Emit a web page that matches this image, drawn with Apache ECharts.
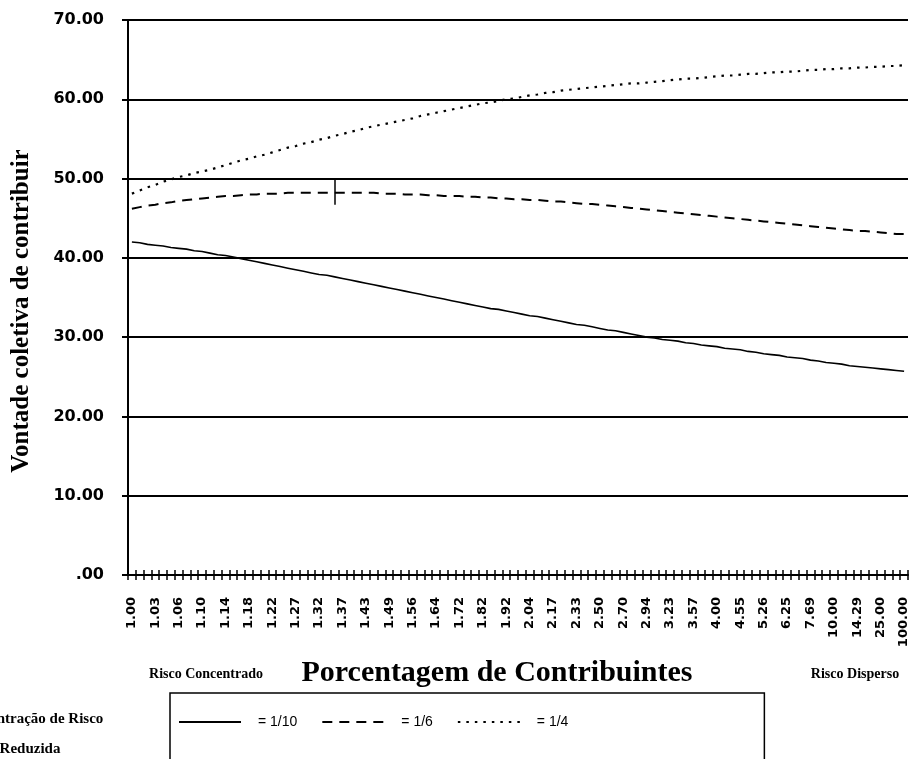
<!DOCTYPE html>
<html>
<head>
<meta charset="utf-8">
<script src="https://cdn.jsdelivr.net/npm/echarts@6/dist/echarts.min.js"></script>
<style>
  html, body { margin: 0; padding: 0; background: #fff; }
  #chart { width: 912px; height: 759px; }
</style>
</head>
<body>
<div id="chart"></div>
<script>
// porcentagem de contribuintes (eixo x, 100 categorias)
const categorias = [
  '1.00', '1.01', '1.02', '1.03', '1.04', '1.05', '1.06', '1.08', '1.09', '1.10',
  '1.11', '1.12', '1.14', '1.15', '1.16', '1.18', '1.19', '1.20', '1.22', '1.23',
  '1.25', '1.27', '1.28', '1.30', '1.32', '1.33', '1.35', '1.37', '1.39', '1.41',
  '1.43', '1.45', '1.47', '1.49', '1.52', '1.54', '1.56', '1.59', '1.61', '1.64',
  '1.67', '1.69', '1.72', '1.75', '1.79', '1.82', '1.85', '1.89', '1.92', '1.96',
  '2.00', '2.04', '2.08', '2.13', '2.17', '2.22', '2.27', '2.33', '2.38', '2.44',
  '2.50', '2.56', '2.63', '2.70', '2.78', '2.86', '2.94', '3.03', '3.13', '3.23',
  '3.33', '3.45', '3.57', '3.70', '3.85', '4.00', '4.17', '4.35', '4.55', '4.76',
  '5.00', '5.26', '5.56', '5.88', '6.25', '6.67', '7.14', '7.69', '8.33', '9.09',
  '10.00', '11.11', '12.50', '14.29', '16.67', '20.00', '25.00', '33.33', '50.00', '100.00'
]

// concentração de risco = 1/10 (linha cheia)
const risco10 = [
  42.0, 41.9, 41.7, 41.6, 41.5, 41.3, 41.2, 41.1, 40.9, 40.8,
  40.6, 40.4, 40.3, 40.1, 39.9, 39.7, 39.5, 39.3, 39.1, 38.9,
  38.7, 38.5, 38.3, 38.1, 37.9, 37.8, 37.6, 37.4, 37.2, 37.0,
  36.8, 36.6, 36.4, 36.2, 36.0, 35.8, 35.6, 35.4, 35.2, 35.0,
  34.8, 34.6, 34.4, 34.2, 34.0, 33.8, 33.6, 33.5, 33.3, 33.1,
  32.9, 32.7, 32.6, 32.4, 32.2, 32.0, 31.8, 31.6, 31.5, 31.3,
  31.1, 30.9, 30.8, 30.6, 30.4, 30.2, 30.0, 29.9, 29.7, 29.6,
  29.5, 29.3, 29.2, 29.0, 28.9, 28.8, 28.6, 28.5, 28.4, 28.2,
  28.1, 27.9, 27.8, 27.7, 27.5, 27.4, 27.3, 27.1, 27.0, 26.8,
  26.7, 26.6, 26.4, 26.3, 26.2, 26.1, 26.0, 25.9, 25.8, 25.7
]

// = 1/6 (tracejada)
const risco6 = [
  46.2, 46.4, 46.6, 46.7, 46.9, 47.0, 47.2, 47.3, 47.4, 47.5,
  47.6, 47.7, 47.8, 47.8, 47.9, 48.0, 48.0, 48.1, 48.1, 48.1,
  48.2, 48.2, 48.2, 48.2, 48.2, 48.2, 48.2, 48.2, 48.2, 48.2,
  48.2, 48.2, 48.1, 48.1, 48.1, 48.0, 48.0, 48.0, 47.9, 47.9,
  47.8, 47.8, 47.8, 47.7, 47.7, 47.6, 47.6, 47.5, 47.5, 47.4,
  47.4, 47.3, 47.3, 47.2, 47.1, 47.1, 47.0, 46.9, 46.8, 46.8,
  46.7, 46.6, 46.5, 46.4, 46.3, 46.2, 46.1, 46.0, 45.9, 45.8,
  45.7, 45.6, 45.5, 45.4, 45.3, 45.2, 45.1, 45.0, 44.9, 44.8,
  44.7, 44.6, 44.5, 44.4, 44.3, 44.2, 44.1, 44.0, 43.9, 43.8,
  43.7, 43.6, 43.5, 43.4, 43.4, 43.3, 43.2, 43.1, 43.0, 43.0
]

// = 1/4 (pontilhada)
const risco4 = [
  48.1, 48.5, 48.9, 49.2, 49.6, 49.9, 50.2, 50.4, 50.7, 50.9,
  51.1, 51.4, 51.7, 52.0, 52.3, 52.5, 52.8, 53.0, 53.3, 53.6,
  53.9, 54.1, 54.4, 54.6, 54.9, 55.1, 55.4, 55.6, 55.9, 56.1,
  56.4, 56.6, 56.8, 57.0, 57.2, 57.4, 57.6, 57.9, 58.1, 58.3,
  58.5, 58.7, 58.9, 59.1, 59.3, 59.5, 59.6, 59.8, 60.0, 60.1,
  60.3, 60.5, 60.6, 60.8, 60.9, 61.1, 61.2, 61.3, 61.4, 61.5,
  61.6, 61.7, 61.8, 61.9, 62.0, 62.0, 62.1, 62.2, 62.3, 62.4,
  62.5, 62.6, 62.6, 62.7, 62.8, 62.9, 63.0, 63.0, 63.1, 63.2,
  63.2, 63.3, 63.4, 63.4, 63.5, 63.5, 63.6, 63.7, 63.7, 63.8,
  63.8, 63.9, 63.9, 64.0, 64.0, 64.1, 64.1, 64.2, 64.2, 64.3
]

const nomesSeries = ['= 1/10', '= 1/6', '= 1/4']

const serif = '"Liberation Serif", "Times New Roman", serif'
const sans = '"DejaVu Sans", Arial, sans-serif'

const chart = echarts.init(document.getElementById('chart'))

const option = {
  backgroundColor: '#fff',
  animation: false,
  grid: { left: 128, right: 4, top: 20, bottom: 184 },
  legend: {
    left: 170,
    top: 693,
    orient: 'horizontal',
    padding: [22, 196, 40, 8],
    borderColor: '#000',
    borderWidth: 1.5,
    itemWidth: 62,
    itemHeight: 12,
    itemGap: 24,
    itemStyle: { opacity: 0 },
    textStyle: {
      fontFamily: '"Liberation Sans", Arial, sans-serif',
      fontSize: 14,
      color: '#000',
      padding: [0, 0, 0, 12]
    },
    data: nomesSeries
  },
  xAxis: [
    {
      type: 'category',
      data: categorias,
      boundaryGap: true,
      axisLine: { lineStyle: { color: '#000', width: 2 } },
      axisTick: { show: true, interval: 0, length: 5, lineStyle: { color: '#000', width: 1.5 } },
      axisLabel: {
        interval: 2,
        rotate: 90,
        margin: 22,
        fontFamily: sans,
        fontWeight: 'bold',
        fontSize: 13,
        color: '#000'
      },
      splitLine: { show: false }
    },
    {
      // ticks cruzados: segunda camada de marcas para dentro
      type: 'category',
      data: categorias,
      position: 'bottom',
      boundaryGap: true,
      axisLine: { show: false },
      axisTick: { show: true, inside: true, interval: 0, length: 5, lineStyle: { color: '#000', width: 1.5 } },
      axisLabel: { show: false },
      splitLine: { show: false }
    }
  ],
  yAxis: {
    type: 'value',
    min: 0,
    max: 70,
    interval: 10,
    axisLine: { show: true, lineStyle: { color: '#000', width: 2 } },
    axisTick: { show: true, length: 6, lineStyle: { color: '#000', width: 2 } },
    axisLabel: {
      margin: 24,
      fontFamily: sans,
      fontWeight: 'bold',
      fontSize: 16,
      color: '#000',
      formatter: v => (v === 0 ? '.00' : v.toFixed(2))
    },
    splitLine: { show: true, lineStyle: { color: '#000', width: 2 } }
  },
  series: [
    {
      name: nomesSeries[0],
      type: 'line',
      data: risco10,
      symbol: 'none',
      lineStyle: { color: '#000', width: 1.6, type: 'solid' },
      itemStyle: { color: '#000' }
    },
    {
      name: nomesSeries[1],
      type: 'line',
      data: risco6,
      symbol: 'none',
      lineStyle: { color: '#000', width: 2, type: [10, 7] },
      itemStyle: { color: '#000' },
      markLine: {
        silent: true,
        symbol: 'none',
        label: { show: false },
        lineStyle: { color: '#000', width: 1.5, type: 'solid' },
        data: [[{ xAxis: '1.35', yAxis: 50 }, { xAxis: '1.35', yAxis: 46.7 }]]
      }
    },
    {
      name: nomesSeries[2],
      type: 'line',
      data: risco4,
      symbol: 'none',
      lineStyle: { color: '#000', width: 2.2, type: [2.5, 6] },
      itemStyle: { color: '#000' }
    }
  ],
  graphic: [
    {
      type: 'text',
      x: 22,
      y: 311,
      rotation: Math.PI / 2,
      style: {
        text: 'Vontade coletiva de contribuir',
        font: 'bold 25px ' + serif,
        fill: '#000',
        align: 'center',
        verticalAlign: 'middle'
      }
    },
    {
      type: 'text',
      x: 206,
      y: 674,
      style: { text: 'Risco Concentrado', font: 'bold 14px ' + serif, fill: '#000', align: 'center', verticalAlign: 'middle' }
    },
    {
      type: 'text',
      x: 497,
      y: 673,
      style: { text: 'Porcentagem de Contribuintes', font: 'bold 30px ' + serif, fill: '#000', align: 'center', verticalAlign: 'middle' }
    },
    {
      type: 'text',
      x: 855,
      y: 674,
      style: { text: 'Risco Disperso', font: 'bold 14px ' + serif, fill: '#000', align: 'center', verticalAlign: 'middle' }
    },
    {
      type: 'text',
      x: 30,
      y: 719,
      style: { text: 'Concentração de Risco', font: 'bold 15px ' + serif, fill: '#000', align: 'center', verticalAlign: 'middle' }
    },
    {
      type: 'text',
      x: 30,
      y: 749,
      style: { text: 'Reduzida', font: 'bold 15px ' + serif, fill: '#000', align: 'center', verticalAlign: 'middle' }
    }
  ]
}

chart.setOption(option)
</script>
</body>
</html>
